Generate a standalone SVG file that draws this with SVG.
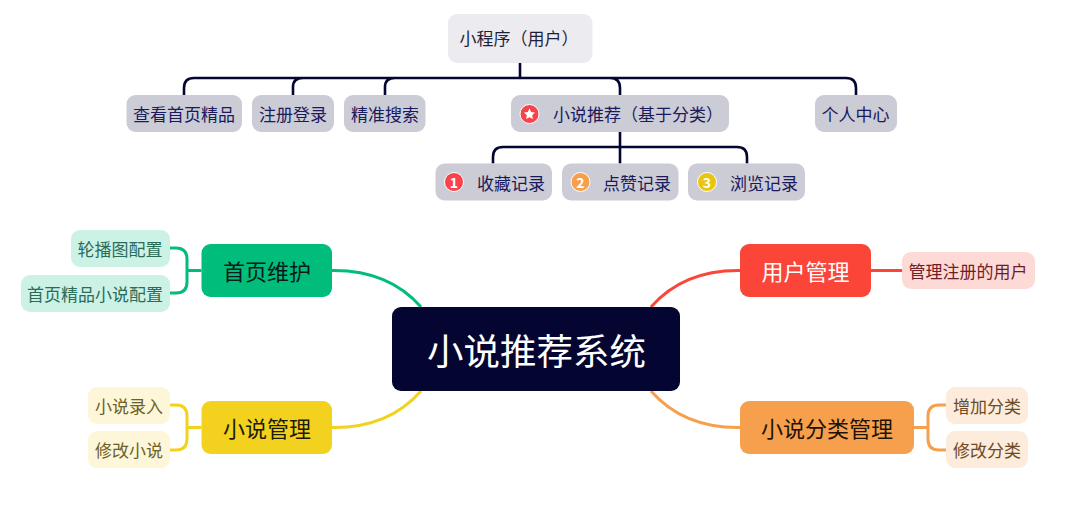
<svg xmlns="http://www.w3.org/2000/svg" width="1080" height="509" viewBox="0 0 1080 509">
<style>
text{font-family:"Noto Sans CJK SC","Noto Sans",sans-serif;text-anchor:middle;dominant-baseline:central}
.top{fill:#cbccd6}
.t{font-size:17px;fill:#1a1a5c}
.c{fill:none;stroke-width:3}
.n{stroke:#050532;stroke-width:2.600px}
.main{font-size:22px}
.sub{font-size:17px}
.num{font-size:14px;font-weight:700;fill:#fff}
.badge{stroke:#fff;stroke-width:1}
</style>
<rect width="1080" height="509" fill="#fff"/>
<g id="connectors">
<path class="c n" d="M520 63V78M184 95V88Q184 78 194 78H846Q856 78 856 88V95M293 95V87Q293 78 303 78M385 95V87Q385 78 395 78M610 78Q620 78 620 88V95"/>
<path class="c n" d="M620 132V163.500M493 163.500V157Q493 147 503 147H737Q747 147 747 157V163.500"/>
<path class="c" stroke="#00bd7c" d="M332 270.500C370 270 400 283 421 307"/>
<path class="c" stroke="#f2d21f" d="M332 427.500C370 428 400 415 421 391"/>
<path class="c" stroke="#fb4539" d="M740 270.500C702 270 672 283 651 307"/>
<path class="c" stroke="#f6a04d" d="M740 427.500C702 428 672 415 651 391"/>
<path class="c" stroke="#00bd7c" d="M201.500 270.500H187M170 248H176Q187 248 187 259V282Q187 293 176 293H170"/>
<path class="c" stroke="#f2d21f" d="M201.500 427.500H187M170 405H176Q187 405 187 416V439Q187 450 176 450H170"/>
<path class="c" stroke="#fb4539" d="M871 270.500H902"/>
<path class="c" stroke="#f6a04d" d="M914 427.500H928M946 405H939Q928 405 928 416V439Q928 450 939 450H946"/>
</g>
<g id="node-root"><rect x="392" y="307" width="288" height="84" rx="9" fill="#050532"/><text x="536.500" y="349" font-size="36.500" fill="#fff">小说推荐系统</text></g>
<g id="node-miniapp"><rect x="448" y="14" width="144.500" height="49" rx="9" fill="#ecebf0"/><text x="519" y="37.500" font-size="17" fill="#1f1f3a">小程序（用户）</text></g>
<g id="node-jingpin"><rect class="top" x="126.500" y="95" width="115.500" height="37" rx="9"/><text class="t" x="184" y="113.500">查看首页精品</text></g>
<g id="node-zhuce"><rect class="top" x="252" y="95" width="82" height="37" rx="9"/><text class="t" x="293" y="113.500">注册登录</text></g>
<g id="node-sousuo"><rect class="top" x="344" y="95" width="81.500" height="37" rx="9"/><text class="t" x="385" y="113.500">精准搜索</text></g>
<g id="node-tuijian"><rect class="top" x="511" y="95" width="218" height="37" rx="9"/><circle class="badge" cx="529.500" cy="114" r="9.500" fill="#f8434a"/><path fill="#fff" d="M529.500 108.500l1.700 3.500 3.800.5-2.800 2.700.7 3.800-3.400-1.800-3.400 1.800.7-3.800-2.800-2.700 3.800-.5z"/><text class="t" x="638" y="113.500">小说推荐（基于分类）</text></g>
<g id="node-geren"><rect class="top" x="815" y="95" width="82" height="37" rx="9"/><text class="t" x="855.500" y="113.500">个人中心</text></g>
<g id="node-shoucang"><rect class="top" x="435.500" y="163.500" width="116.500" height="37" rx="9"/><circle class="badge" cx="454" cy="182" r="9.500" fill="#f8434a"/><text class="num" x="454" y="181.500">1</text><text class="t" x="511" y="182">收藏记录</text></g>
<g id="node-dianzan"><rect class="top" x="562" y="163.500" width="116.500" height="37" rx="9"/><circle class="badge" cx="580.500" cy="182" r="9.500" fill="#f6a04d"/><text class="num" x="580.500" y="181.500">2</text><text class="t" x="637" y="182">点赞记录</text></g>
<g id="node-liulan"><rect class="top" x="688" y="163.500" width="117" height="37" rx="9"/><circle class="badge" cx="707" cy="182" r="9.500" fill="#e9c410"/><text class="num" x="707" y="181.500">3</text><text class="t" x="764" y="182">浏览记录</text></g>
<g id="node-shouye"><rect x="201.500" y="244" width="130.500" height="53" rx="9" fill="#00bd7c"/><text class="main" x="267" y="270" fill="#061a18">首页维护</text></g>
<g id="node-lunbo"><rect x="71" y="230" width="99" height="37" rx="9" fill="#ccf2e5"/><text class="sub" x="120" y="248.500" fill="#2a6c5a">轮播图配置</text></g>
<g id="node-jingpinpeizhi"><rect x="21" y="275" width="149" height="37" rx="9" fill="#ccf2e5"/><text class="sub" x="95" y="293.500" fill="#2a6c5a">首页精品小说配置</text></g>
<g id="node-xiaoshuo"><rect x="201.500" y="401" width="130.500" height="53" rx="9" fill="#f2d21f"/><text class="main" x="267" y="427" fill="#1c1a08">小说管理</text></g>
<g id="node-luru"><rect x="88" y="387" width="82" height="37" rx="9" fill="#fdf6d8"/><text class="sub" x="129" y="405.500" fill="#6b6229">小说录入</text></g>
<g id="node-xiugai"><rect x="88" y="431" width="82" height="37" rx="9" fill="#fdf6d8"/><text class="sub" x="129" y="449.500" fill="#6b6229">修改小说</text></g>
<g id="node-yonghu"><rect x="740" y="244" width="131" height="53" rx="9" fill="#fb4539"/><text class="main" x="805.500" y="270" fill="#fff">用户管理</text></g>
<g id="node-zhucehu"><rect x="902" y="252" width="133" height="37" rx="9" fill="#fedad7"/><text class="sub" x="968" y="270.500" fill="#6f1d28">管理注册的用户</text></g>
<g id="node-fenlei"><rect x="740" y="401" width="174" height="53" rx="9" fill="#f6a04d"/><text class="main" x="827" y="427" fill="#1f1206">小说分类管理</text></g>
<g id="node-zengjia"><rect x="946" y="387" width="82" height="37" rx="9" fill="#fdecdb"/><text class="sub" x="987" y="405.500" fill="#6e4a24">增加分类</text></g>
<g id="node-xiugaifl"><rect x="946" y="431" width="82" height="37" rx="9" fill="#fdecdb"/><text class="sub" x="987" y="449.500" fill="#6e4a24">修改分类</text></g>
</svg>
